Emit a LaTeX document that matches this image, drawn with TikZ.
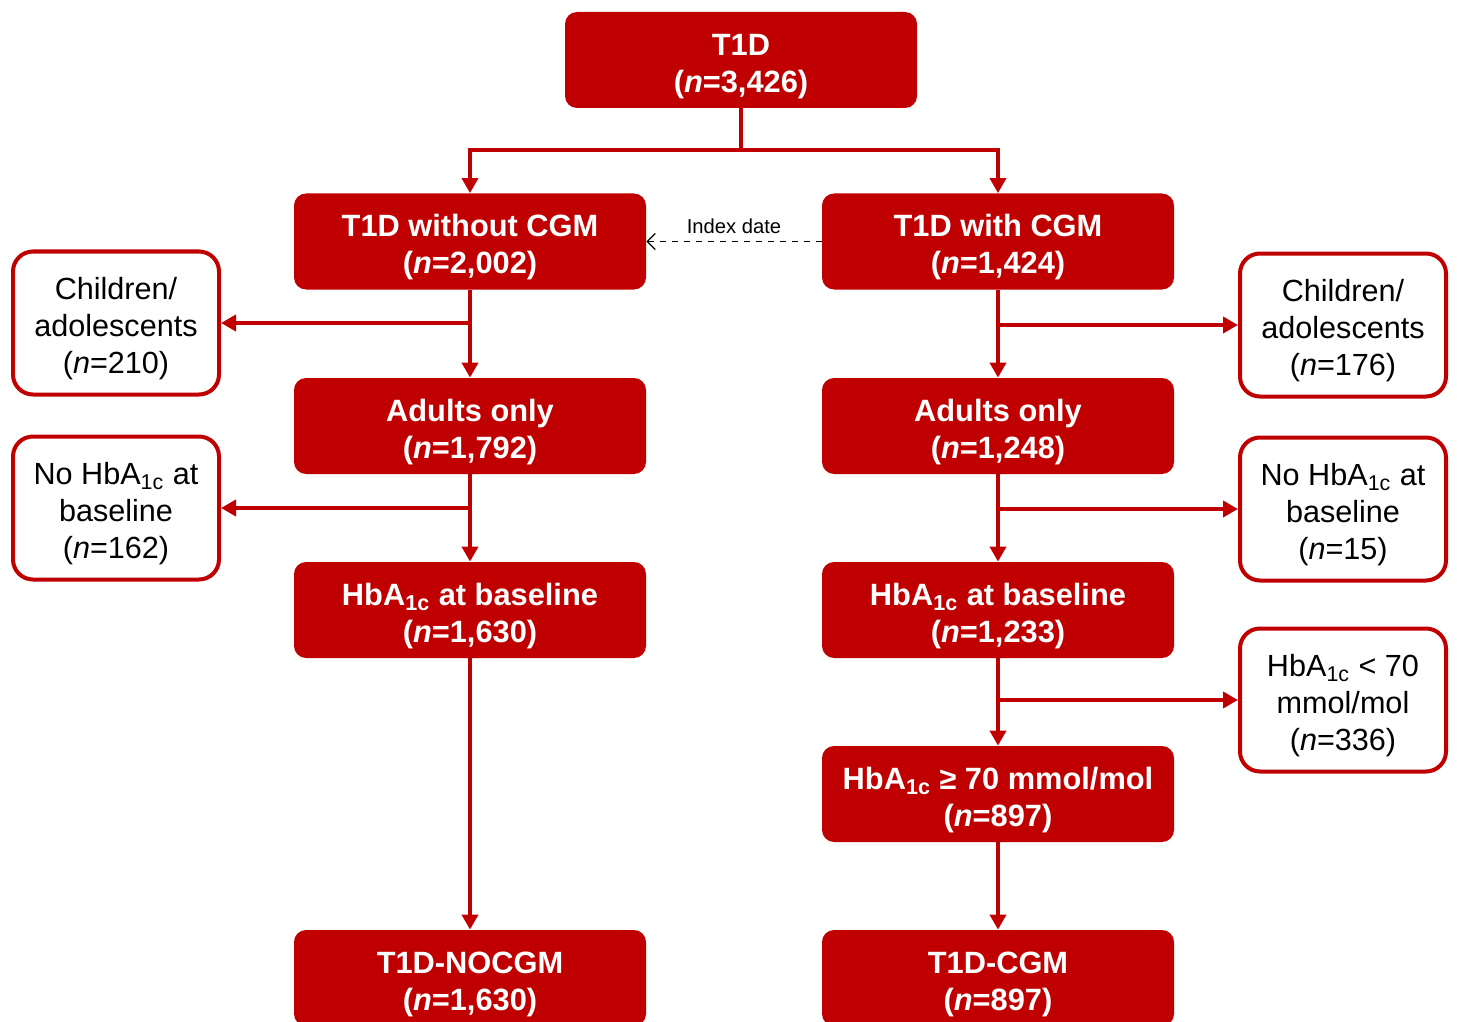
\documentclass[tikz,border=0pt]{standalone}
\usepackage{fontspec}
\setmainfont{Liberation Sans}
\usepackage{tikz}
\usetikzlibrary{arrows.meta}

\definecolor{cohortred}{RGB}{192,0,0}
\newcommand{\hba}{HbA\textsubscript{1c}}

\tikzset{
	stage/.style={fill=cohortred, text=white, rounded corners=6pt, minimum width=176pt,
		minimum height=48pt, inner sep=0pt, align=center, font=\fontsize{15.4}{18.5}\selectfont\bfseries,
		text height=35.5pt},
	drop/.style={draw=cohortred, line width=2pt, fill=white, text=black, rounded corners=10pt,
		minimum width=103pt, minimum height=71.5pt, inner sep=0pt, align=center,
		font=\fontsize{15.3}{18.5}\selectfont, text height=53.5pt},
	flow/.style={cohortred, line width=2pt},
	arr/.style={flow, -{Triangle[length=7.5pt,width=8pt]}}
}

\begin{document}
\begin{tikzpicture}[x=0.5pt,y=-0.5pt]
		\useasboundingbox (0,0) rectangle (1458,1022);
		
		\node[stage] (all) at (741,60) {T1D\\(\textit{n}=3,426)};
		
		\node[stage] (nocgm) at (470,241.5) {T1D without CGM\\(\textit{n}=2,002)};
		\node[stage] (cgm) at (998,241.5) {T1D with CGM\\(\textit{n}=1,424)};
		
		\node[stage] (adultsL) at (470,426) {Adults only\\(\textit{n}=1,792)};
		\node[stage] (adultsR) at (998,426) {Adults only\\(\textit{n}=1,248)};
		
		\node[stage] (hbaL) at (470,610) {\hba{} at baseline\\(\textit{n}=1,630)};
		\node[stage] (hbaR) at (998,610) {\hba{} at baseline\\(\textit{n}=1,233)};
		
		\node[stage] (high) at (998,794) {\hba{} ≥ 70 mmol/mol\\(\textit{n}=897)};
		
		\node[stage] (nocgmfinal) at (470,978) {T1D-NOCGM\\(\textit{n}=1,630)};
		\node[stage] (cgmfinal) at (998,978) {T1D-CGM\\(\textit{n}=897)};
		
		\node[drop] (kidsL) at (116,323) {Children/\\adolescents\\(\textit{n}=210)};
		\node[drop] (nohbaL) at (116,508) {No \hba{} at\\baseline\\(\textit{n}=162)};
		\node[drop] (kidsR) at (1343,325) {Children/\\adolescents\\(\textit{n}=176)};
		\node[drop] (nohbaR) at (1343,509) {No \hba{} at\\baseline\\(\textit{n}=15)};
		\node[drop] (low) at (1343,700) {\hba{} < 70\\mmol/mol\\(\textit{n}=336)};
		
		\coordinate (split) at (741,150);
		\draw[flow] (all) -- (split);
		\draw[arr] (split) -| (nocgm);
		\draw[arr] (split) -| (cgm);
		
		\draw[arr] (nocgm) -- (adultsL);
		\draw[arr] (adultsL) -- (hbaL);
		\draw[arr] (hbaL) -- (nocgmfinal);
		\draw[arr] (nocgm.south |- kidsL) -- (kidsL);
		\draw[arr] (adultsL.south |- nohbaL) -- (nohbaL);
		
		\draw[arr] (cgm) -- (adultsR);
		\draw[arr] (adultsR) -- (hbaR);
		\draw[arr] (hbaR) -- (high);
		\draw[arr] (high) -- (cgmfinal);
		\draw[arr] (cgm.south |- kidsR) -- (kidsR);
		\draw[arr] (adultsR.south |- nohbaR) -- (nohbaR);
		\draw[arr] (hbaR.south |- low) -- (low);
		
		\draw[dashed, -{Straight Barb[length=4pt,width=8pt]}, line width=0.6pt] (cgm) -- node[above=0.3pt, font=\fontsize{10.1}{12}\selectfont] (index) {Index date} (nocgm);
	\end{tikzpicture}
\end{document}
